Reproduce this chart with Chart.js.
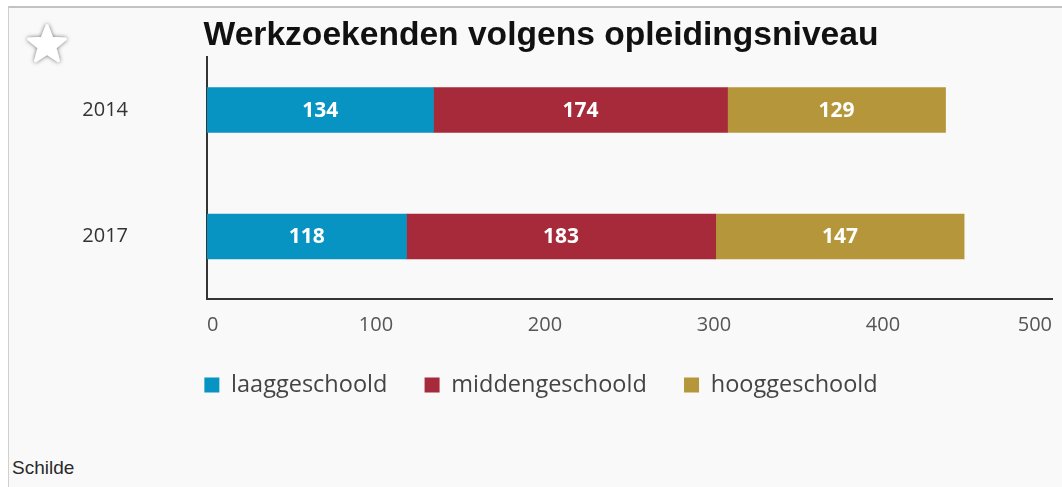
<!DOCTYPE html>
<html>
<head>
<meta charset="utf-8">
<title>Werkzoekenden volgens opleidingsniveau</title>
<script src="https://cdn.jsdelivr.net/npm/chart.js@4.4.0/dist/chart.umd.min.js"></script>
<style>
  html, body { margin: 0; padding: 0; background: #fff; width: 1062px; height: 487px; overflow: hidden; }
  #panel { position: absolute; left: 8px; top: 6px; right: 0; bottom: 0; background: #f9f9f9;
           border-top: 2px solid #c2c2c2; border-left: 1px solid #d0d0d0; }
  #star { position: absolute; left: 21px; top: 19px; }
  #place { position: absolute; left: 12px; top: 457px; font: 19px "Liberation Sans", Arial, sans-serif; color: #2a2a2a; }
  #chart { position: absolute; left: 0; top: 0; }
</style>
</head>
<body>
<div id="panel"></div>
<svg id="star" width="52" height="50" viewBox="0 0 50 48">
  <defs>
    <filter id="soft" x="-30%" y="-30%" width="160%" height="160%">
      <feDropShadow dx="0" dy="0" stdDeviation="2" flood-color="#6e6e6e" flood-opacity="1"/>
    </filter>
  </defs>
  <polygon filter="url(#soft)" fill="#fff" stroke="#fff" stroke-width="3" stroke-linejoin="round"
    points="25,6.5 29.7,18.6 42.6,19.2 32.6,27.4 35.9,40 25,32.8 14.1,40 17.4,27.4 7.4,19.2 20.3,18.6"/>
</svg>
<div id="place">Schilde</div>
<canvas id="chart" width="1062" height="487"></canvas>
<script>
// Job seekers per education level, by year
const years = ['2014', '2017'];
const laaggeschoold = [134, 118];
const middengeschoold = [174, 183];
const hooggeschoold = [129, 147];
const seriesNames = ['laaggeschoold', 'middengeschoold', 'hooggeschoold'];
const seriesValues = [laaggeschoold, middengeschoold, hooggeschoold];
const seriesColors = ['#0894c2', '#a62a3a', '#b6963a'];
const xTicks = [0, 100, 200, 300, 400, 500];

// Writes each segment's value in the middle of its bar
const valueLabels = {
  id: 'valueLabels',
  afterDatasetsDraw(chart) {
    const ctx = chart.ctx;
    ctx.save();
    ctx.font = 'bold 21px "Open Sans"';
    ctx.fillStyle = '#ffffff';
    ctx.textAlign = 'center';
    ctx.textBaseline = 'middle';
    chart.data.datasets.forEach((ds, di) => {
      chart.getDatasetMeta(di).data.forEach((bar, i) => {
        const p = bar.getCenterPoint();
        ctx.fillText(String(ds.data[i].x), p.x, p.y + 1);
      });
    });
    ctx.restore();
  }
};

const axisLine = { display: true, color: '#343434', width: 2 };

function draw() {
  new Chart(document.getElementById('chart'), {
    type: 'bar',
    data: {
      datasets: seriesNames.map((name, s) => ({
        label: name,
        data: seriesValues[s].map((v, i) => ({ x: v, y: i })),
        backgroundColor: seriesColors[s],
        borderWidth: 0,
        barThickness: 45
      }))
    },
    options: {
      indexAxis: 'y',
      responsive: false,
      animation: false,
      events: [],
      layout: { padding: { left: 30, right: 10, top: 16, bottom: 80.25 } },
      scales: {
        x: {
          type: 'linear',
          stacked: true,
          min: 0,
          max: 500,
          grid: { display: false, drawTicks: false },
          border: axisLine,
          ticks: {
            align: 'inner',
            padding: 14.5,
            color: '#555',
            font: { family: 'Open Sans', size: 20 }
          },
          afterBuildTicks(scale) { scale.ticks = xTicks.map(v => ({ value: v })); },
          afterFit(scale) { scale.height = 37; scale.paddingLeft = 0; scale.paddingRight = 0; }
        },
        y: {
          type: 'linear',
          reverse: true,
          stacked: true,
          offset: false,
          min: -0.419,
          max: 1.494,
          grid: { display: false, drawTicks: false },
          border: axisLine,
          ticks: {
            padding: 79,
            color: '#333',
            font: { family: 'Open Sans', size: 20 },
            callback: v => years[v] ?? ''
          },
          afterBuildTicks(scale) { scale.ticks = years.map((_, i) => ({ value: i })); },
          afterFit(scale) { scale.width = 177; scale.paddingTop = 0; scale.paddingBottom = 0; }
        }
      },
      plugins: {
        title: {
          display: true,
          text: 'Werkzoekenden volgens opleidingsniveau',
          color: '#111',
          font: { family: 'Liberation Sans', size: 33.6, weight: 'bold', lineHeight: 1.2 },
          padding: { top: 0, bottom: 0.7 }
        },
        legend: {
          position: 'bottom',
          labels: {
            boxWidth: 15,
            boxHeight: 15,
            padding: 37.25,
            color: '#444',
            font: { family: 'Open Sans', size: 23.5 }
          }
        },
        tooltip: { enabled: false }
      }
    },
    plugins: [valueLabels]
  });
}

Promise.all([
  document.fonts.load('20px "Open Sans"'),
  document.fonts.load('bold 21px "Open Sans"'),
  document.fonts.load('bold 34px "Liberation Sans"')
]).then(draw, draw);
</script>
</body>
</html>
